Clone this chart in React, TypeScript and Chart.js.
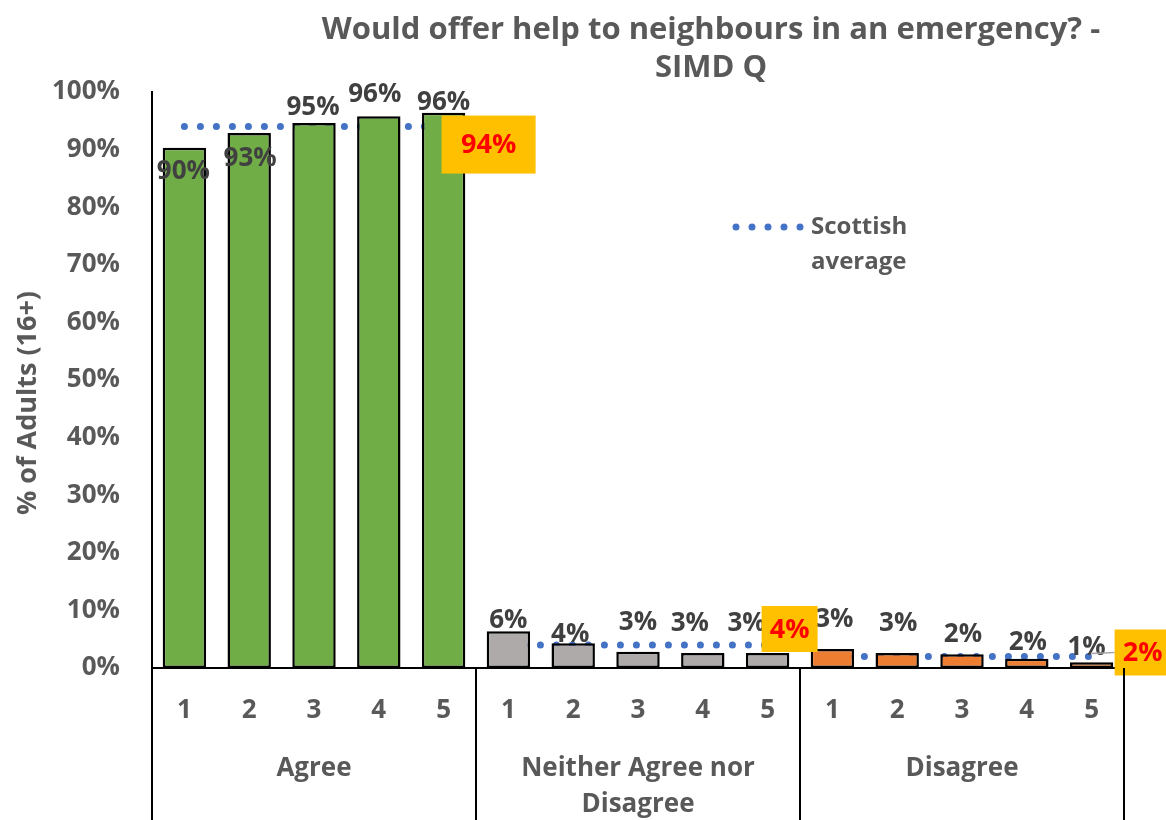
import React, { useEffect, useRef } from "react";
import { Chart, registerables } from "chart.js";
Chart.register(...registerables);

// ---------- data ----------
const categories = ["1", "2", "3", "4", "5", "1", "2", "3", "4", "5", "1", "2", "3", "4", "5"];
const groups = ["Agree", "Neither Agree nor Disagree", "Disagree"];
const groupLines = [["Agree"], ["Neither Agree nor", "Disagree"], ["Disagree"]];
const agreeValues = [90.3, 92.9, 94.6, 95.8, 96.4];
const neitherValues = [6.4, 4.3, 2.8, 2.6, 2.6];
const disagreeValues = [3.3, 2.6, 2.4, 1.6, 1.0];
const scottishAverage = [94, 4, 2];
const yTickValues = [0, 10, 20, 30, 40, 50, 60, 70, 80, 90, 100];
const titleLines = ["Would offer help to neighbours in an emergency? -", "SIMD Q"];
const yAxisTitle = "% of Adults (16+)";
const legendLines = ["Scottish", "average"];

// ---------- styles ----------
const FONT = "'Open Sans'";
const TEXT = "#595959";
const LABEL = "#404040";
const groupColors = ["#70AD47", "#AEAAAA", "#ED7D31"];
const AVG_COLOR = "#4472C4";
// label shifts (dx, dy) relative to the top-centre of each bar (Excel manual placement)
const barLabelShift: [number, number][] = [
  [-1, 24], [1, 26], [-1, -16], [-4, -22], [0, -10],
  [0, -11], [-3, -9], [0, -29], [-13, -29], [-21, -29],
  [2, -29], [1, -29], [1, -20], [1, -16], [-5, -15],
];
// average label box: dx, dy of centre from last point, width, height
const avgBox: [number, number, number, number][] = [
  [45, 18, 94, 58],
  [22, -16, 56, 46],
  [51, -4, 56, 46],
];

const allValues = [...agreeValues, ...neitherValues, ...disagreeValues];

const overlay = {
  id: "overlay",
  afterDatasetsDraw(chart: any) {
    const ctx = chart.ctx as CanvasRenderingContext2D;
    const area = chart.chartArea;
    ctx.save();

    // bar data labels
    const barMeta = chart.getDatasetMeta(0);
    ctx.font = `bold 26px ${FONT}`;
    ctx.fillStyle = LABEL;
    ctx.textAlign = "center";
    ctx.textBaseline = "middle";
    barMeta.data.forEach((bar: any, i: number) => {
      const [dx, dy] = barLabelShift[i];
      ctx.fillText(Math.round(allValues[i]) + "%", bar.x + dx, bar.y + dy);
    });

    // average label boxes
    for (let g = 0; g < scottishAverage.length; g++) {
      const meta = chart.getDatasetMeta(1 + g);
      const pts = meta.data.filter((p: any, i: number) => Math.floor(i / 5) === g);
      const last = pts[pts.length - 1];
      const [dx, dy, w, h] = avgBox[g];
      const cx = last.x + dx;
      const cy = last.y + dy;
      if (cx - w / 2 - last.x > 10) {
        ctx.strokeStyle = "#A6A6A6";
        ctx.lineWidth = 1.5;
        ctx.beginPath();
        ctx.moveTo(last.x, last.y - 3);
        ctx.lineTo(cx - w / 2, cy);
        ctx.stroke();
      }
      ctx.fillStyle = "#FFC000";
      ctx.fillRect(cx - w / 2, cy - h / 2, w, h);
      ctx.fillStyle = "#FF0000";
      ctx.font = `bold 27px ${FONT}`;
      ctx.fillText(scottishAverage[g] + "%", cx, cy + 1);
    }

    // group separators + group labels
    ctx.strokeStyle = "#000";
    ctx.lineWidth = 2;
    const n = categories.length;
    const step = (area.right - area.left) / n;
    for (let g = 0; g <= groups.length; g++) {
      const x = area.left + g * 5 * step;
      ctx.beginPath();
      ctx.moveTo(x, area.bottom);
      ctx.lineTo(x, chart.height);
      ctx.stroke();
    }
    ctx.fillStyle = TEXT;
    ctx.font = `bold 26px ${FONT}`;
    groupLines.forEach((lines, g) => {
      const cx = area.left + (g * 5 + 2.5) * step;
      lines.forEach((t, k) => ctx.fillText(t, cx, area.bottom + 101 + k * 36));
    });

    // title
    ctx.font = `bold 31px ${FONT}`;
    ctx.fillText(titleLines[0], 711, 30);
    ctx.fillText(titleLines[1], 711, 68);

    // y axis title
    ctx.save();
    ctx.translate(28, 403);
    ctx.rotate(-Math.PI / 2);
    ctx.font = `bold 27px ${FONT}`;
    ctx.fillText(yAxisTitle, 0, 0);
    ctx.restore();

    // legend
    ctx.fillStyle = AVG_COLOR;
    for (let k = 0; k < 5; k++) {
      ctx.beginPath();
      ctx.arc(736 + k * 16, 227, 3.5, 0, Math.PI * 2);
      ctx.fill();
    }
    ctx.fillStyle = TEXT;
    ctx.textAlign = "left";
    ctx.font = `bold 24px ${FONT}`;
    ctx.fillText(legendLines[0], 811, 227);
    ctx.fillText(legendLines[1], 811, 262);

    ctx.restore();
  },
};

export default function App() {
  const ref = useRef<HTMLCanvasElement>(null);
  useEffect(() => {
    document.body.style.margin = "0";
    const avgDatasets = scottishAverage.map((v, g) => ({
      type: "line" as const,
      data: categories.map((_, i) => (Math.floor(i / 5) === g ? v : null)),
      borderColor: AVG_COLOR,
      borderWidth: 7,
      borderDash: [0, 16],
      borderCapStyle: "round" as const,
      pointRadius: 0,
      fill: false,
      spanGaps: false,
    }));
    const chart = new Chart(ref.current!, {
      type: "bar",
      data: {
        labels: categories,
        datasets: [
          {
            type: "bar",
            data: allValues,
            backgroundColor: allValues.map((_, i) => groupColors[Math.floor(i / 5)]),
            borderColor: "#000",
            borderWidth: 2.5,
            borderSkipped: false,
            categoryPercentage: 1,
            barPercentage: 0.67,
          } as any,
          ...(avgDatasets as any),
        ],
      },
      options: {
        responsive: false,
        animation: false,
        layout: { padding: { top: 92, right: 42, left: 0, bottom: 0 } },
        plugins: { legend: { display: false }, tooltip: { enabled: false }, title: { display: false } },
        scales: {
          x: {
            type: "category",
            offset: true,
            grid: { display: false, drawTicks: false },
            border: { display: true, color: "#000", width: 2 },
            ticks: {
              autoSkip: false,
              maxRotation: 0,
              padding: 27,
              color: TEXT,
              font: { family: "Open Sans", size: 26, weight: "bold" },
            },
            afterFit: (s: any) => {
              s.height = 152;
            },
          },
          y: {
            min: 0,
            max: 100,
            afterBuildTicks: (s: any) => {
              s.ticks = yTickValues.map((v) => ({ value: v }));
            },
            grid: { display: false, drawTicks: false },
            border: { display: true, color: "#000", width: 2 },
            ticks: {
              padding: 32,
              color: TEXT,
              font: { family: "Open Sans", size: 26, weight: "bold" },
              callback: (v: any) => v + "%",
            },
            afterFit: (s: any) => {
              s.width = 152;
            },
          },
        },
      },
      plugins: [overlay],
    });
    return () => chart.destroy();
  }, []);
  return <canvas ref={ref} width={1166} height={820} style={{ display: "block" }} />;
}
